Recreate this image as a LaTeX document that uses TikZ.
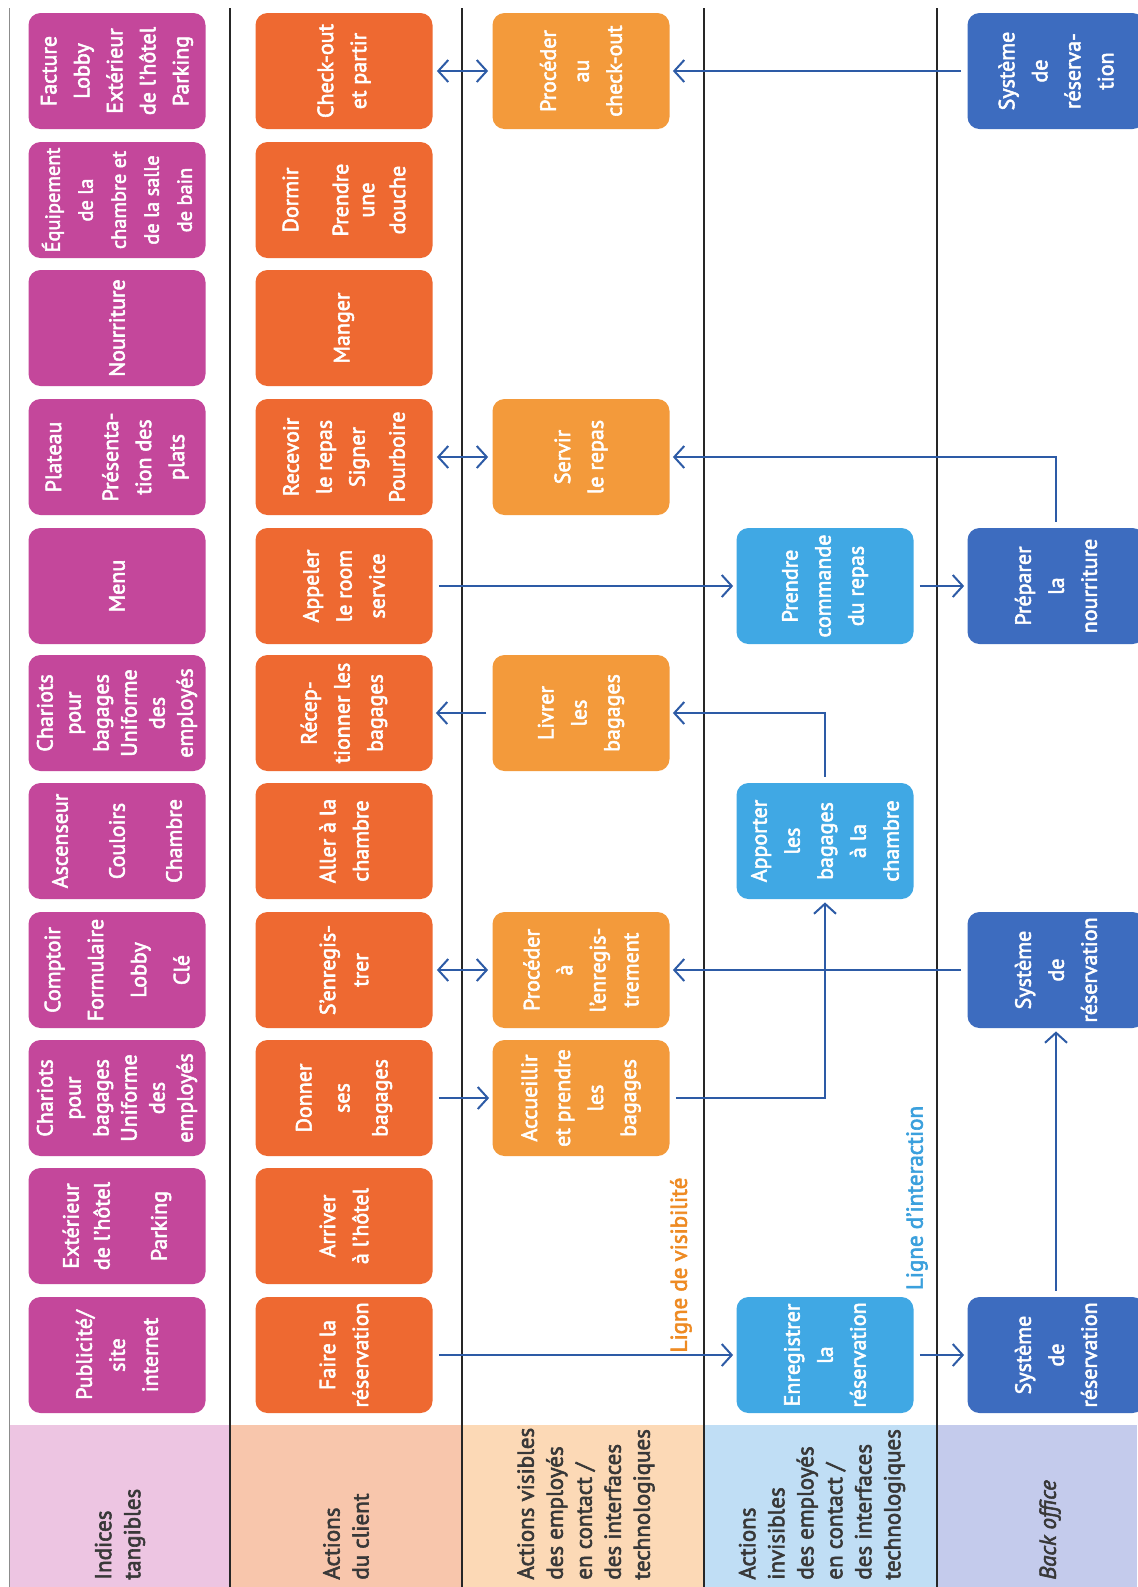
\documentclass[tikz,border=0pt]{standalone}
\usepackage{fontspec}
\setmainfont{PT Sans}
\newfontfamily\boxfont{PT Sans}[FakeBold=2.5]
\usetikzlibrary{arrows.meta}

\definecolor{tangc}{HTML}{C4479B}
\definecolor{clientc}{HTML}{EE6931}
\definecolor{visc}{HTML}{F39A3B}
\definecolor{invc}{HTML}{40A8E4}
\definecolor{backc}{HTML}{3D6CBF}
\definecolor{bandtang}{HTML}{EDC5E2}
\definecolor{bandclient}{HTML}{F8C6AC}
\definecolor{bandvis}{HTML}{FCD9B6}
\definecolor{bandinv}{HTML}{C0DEF5}
\definecolor{bandback}{HTML}{C4CBEC}
\definecolor{flowblue}{HTML}{2D5BA6}
\definecolor{vistxt}{HTML}{EE8A22}
\definecolor{inttxt}{HTML}{3BA0DD}
\definecolor{labtxt}{HTML}{383838}

\begin{document}
\begin{tikzpicture}[x=0.5pt,y=-0.5pt,
  card/.style={rounded corners=6pt, minimum width=58pt, minimum height=88.5pt,
    rotate=90, inner sep=0pt, align=center, text=white,
    font=\boxfont\fontsize{11}{16.5}\selectfont},
  tangbox/.style={card, fill=tangc},
  clientbox/.style={card, fill=clientc},
  visbox/.style={card, fill=visc},
  invbox/.style={card, fill=invc},
  backbox/.style={card, fill=backc},
  lanelabel/.style={rotate=90, anchor=west, inner sep=0pt, align=left, text=labtxt,
    font=\boxfont\fontsize{11.5}{14.5}\selectfont},
  lineword/.style={rotate=90, inner sep=0pt, font=\boxfont\fontsize{11.5}{14}\selectfont},
  laneline/.style={draw=black!85, line width=0.75pt},
  flow/.style={draw=flowblue, line width=1pt,
    -{Straight Barb[length=5pt,width=11pt]}, shorten >=1.5pt, shorten <=3pt},
  dflow/.style={draw=flowblue, line width=1pt,
    {Straight Barb[length=5pt,width=11pt]}-{Straight Barb[length=5pt,width=11pt]},
    shorten >=2pt, shorten <=2pt}]

\useasboundingbox (0,0) rectangle (1137,1587);
\fill[white] (0,0) rectangle (1137,1587);

% lane title bands
\fill[bandtang]   (10,1425)  rectangle (230,1587);
\fill[bandclient] (230,1425) rectangle (462,1587);
\fill[bandvis]    (462,1425) rectangle (704,1587);
\fill[bandinv]    (704,1425) rectangle (937,1587);
\fill[bandback]   (937,1425) rectangle (1137,1587);

% lane separators
\draw[draw=black!45, line width=0.5pt] (9,8) -- (9,1587);
\draw[laneline] (230,8) -- (230,1587);
\draw[laneline] (462,8) -- (462,1587);
\draw[laneline] (704,8) -- (704,1587);
\draw[laneline] (937,8) -- (937,1587);

% lane titles
\node[lanelabel] (lab1) at (120,1580) {Indices\\tangibles};
\node[lanelabel] (lab2) at (346,1580) {Actions\\du client};
\node[lanelabel] (lab3) at (586,1580) {Actions visibles\\des employés\\en contact /\\des interfaces\\technologiques};
\node[lanelabel] (lab4) at (822,1580) {Actions\\invisibles\\des employés\\en contact /\\des interfaces\\technologiques};
\node[lanelabel] (lab5) at (1050,1580) {\itshape Back office};

% tangible evidence
\node[tangbox] (pub)   at (117,1355) {Publicité/\\site\\internet};
\node[tangbox] (ext)   at (117,1226) {Extérieur\\[-1pt]de l’hôtel\\[12pt]Parking};
\node[tangbox] (char1) at (117,1098) {Chariots\\[-2.5pt]pour\\[-2.5pt]bagages\\[-2.5pt]Uniforme\\[-2.5pt]des\\[-2.5pt]employés};
\node[tangbox] (comp)  at (117,970)  {Comptoir\\[5pt]Formulaire\\[5pt]Lobby\\[5pt]Clé};
\node[tangbox] (asc)   at (117,841)  {Ascenseur\\[12pt]Couloirs\\[12pt]Chambre};
\node[tangbox] (char2) at (117,713)  {Chariots\\[-2.5pt]pour\\[-2.5pt]bagages\\[-2.5pt]Uniforme\\[-2.5pt]des\\[-2.5pt]employés};
\node[tangbox] (menu)  at (117,586)  {Menu};
\node[tangbox] (plat)  at (117,457)  {Plateau\\[12pt]Présenta-\\tion des\\plats};
\node[tangbox] (nour)  at (117,328)  {Nourriture};
\node[tangbox, font=\boxfont\fontsize{10.2}{16.5}\selectfont] (equip) at (117,200)
  {Équipement\\de la\\chambre et\\de la salle\\de bain};
\node[tangbox] (fact)  at (117,71)   {Facture\\Lobby\\Extérieur\\de l’hôtel\\Parking};

% customer actions
\node[clientbox] (faire)    at (344,1355) {Faire la\\réservation};
\node[clientbox] (arriver)  at (344,1226) {Arriver\\à l’hôtel};
\node[clientbox] (donner)   at (344,1098) {Donner\\[2.5pt]ses\\[2.5pt]bagages};
\node[clientbox] (senreg)   at (344,970)  {S’enregis-\\trer};
\node[clientbox] (aller)    at (344,841)  {Aller à la\\chambre};
\node[clientbox] (recep)    at (344,713)  {Récep-\\tionner les\\bagages};
\node[clientbox] (appeler)  at (344,586)  {Appeler\\le room\\service};
\node[clientbox] (recevoir) at (344,457)  {Recevoir\\le repas\\Signer\\[3.5pt]Pourboire};
\node[clientbox] (manger)   at (344,328)  {Manger};
\node[clientbox] (dormir)   at (344,200)  {Dormir\\[8.5pt]Prendre\\[-3.5pt]une\\[-1pt]douche};
\node[clientbox] (checkout) at (344,71)   {Check-out\\et partir};

% visible contact employee actions
\node[visbox] (accueil)   at (581,1098) {Accueillir\\et prendre\\les\\bagages};
\node[visbox] (procenr)   at (581,970)  {Procéder\\à\\l’enregis-\\trement};
\node[visbox] (livrer)    at (581,713)  {Livrer\\les\\bagages};
\node[visbox] (servir)    at (581,457)  {Servir\\le repas};
\node[visbox] (proccheck) at (581,71)   {Procéder\\au\\check-out};

% invisible contact employee actions
\node[invbox] (enreg)    at (825,1355) {Enregistrer\\la\\réservation};
\node[invbox] (apporter) at (825,841)  {Apporter\\les\\bagages\\à la\\chambre};
\node[invbox] (prendre)  at (825,586)  {Prendre\\commande\\du repas};

% back office
\node[backbox] (sys0)     at (1056,1355) {Système\\de\\réservation};
\node[backbox] (sys3)     at (1056,970)  {Système\\de\\réservation};
\node[backbox] (preparer) at (1056,586)  {Préparer\\la\\nourriture};
\node[backbox] (sys10)    at (1056,71)   {Système\\de\\réserva-\\tion};

% boundary lines
\node[lineword, text=vistxt] (vislabel) at (681,1265) {Ligne de visibilité};
\node[lineword, text=inttxt] (intlabel) at (917,1198) {Ligne d’interaction};

% flows
\draw[flow] (faire) -- (enreg);
\draw[flow] (enreg) -- (sys0);
\draw[flow] (sys0) -- (sys3);
\draw[flow] (donner) -- (accueil);
\draw[flow] (accueil) -| (apporter);
\draw[flow] (sys3) -- (procenr);
\draw[dflow] (senreg) -- (procenr);
\draw[flow] (apporter) |- (livrer);
\draw[flow] (livrer) -- (recep);
\draw[flow] (appeler) -- (prendre);
\draw[flow] (prendre) -- (preparer);
\draw[flow] (preparer) |- (servir);
\draw[dflow] (recevoir) -- (servir);
\draw[flow] (sys10) -- (proccheck);
\draw[dflow] (checkout) -- (proccheck);

\end{tikzpicture}
\end{document}
